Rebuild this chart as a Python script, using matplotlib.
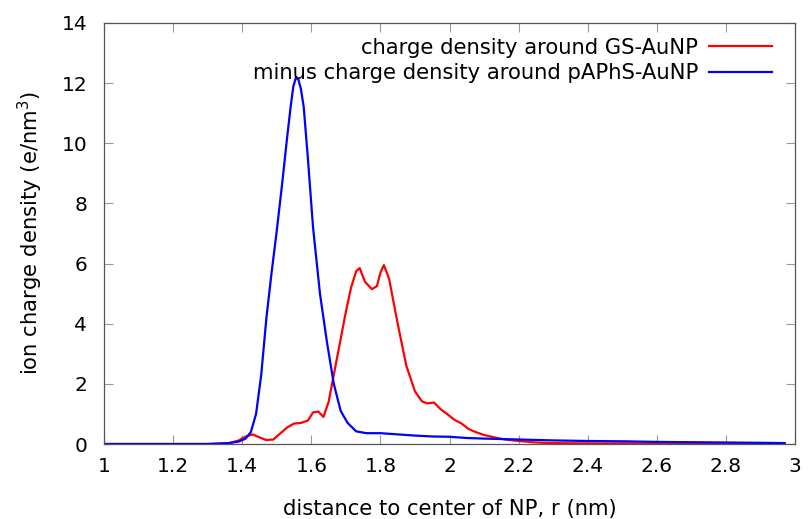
import matplotlib
matplotlib.use("Agg")
import matplotlib.pyplot as plt

# GS-AuNP charge density (red)
red_x = [1.00, 1.10, 1.20, 1.30, 1.36, 1.39, 1.41, 1.43, 1.45, 1.47, 1.49, 1.51, 1.53, 1.55,
         1.57, 1.59, 1.605, 1.62, 1.635, 1.65, 1.665, 1.68, 1.70, 1.715, 1.73, 1.74, 1.755,
         1.775, 1.79, 1.80, 1.81, 1.825, 1.85, 1.875, 1.90, 1.92, 1.935, 1.955, 1.975, 1.995,
         2.015, 2.035, 2.055, 2.075, 2.10, 2.13, 2.16, 2.20, 2.25, 2.30, 2.40, 2.50, 2.60,
         2.70, 2.80, 2.90, 2.97]
red_y = [0.00, 0.00, 0.00, 0.00, 0.02, 0.12, 0.25, 0.32, 0.22, 0.13, 0.15, 0.35, 0.55, 0.68,
         0.70, 0.78, 1.05, 1.08, 0.90, 1.40, 2.30, 3.20, 4.40, 5.20, 5.75, 5.85, 5.40,
         5.15, 5.25, 5.70, 5.95, 5.50, 4.00, 2.60, 1.75, 1.42, 1.35, 1.38, 1.15, 0.98,
         0.80, 0.68, 0.50, 0.40, 0.30, 0.22, 0.15, 0.10, 0.05, 0.03, 0.02, 0.02, 0.01,
         0.02, 0.01, 0.02, 0.01]

# minus pAPhS-AuNP charge density (blue)
blue_x = [1.00, 1.10, 1.20, 1.30, 1.36, 1.39, 1.41, 1.425, 1.44, 1.455, 1.47, 1.485, 1.50,
          1.515, 1.53, 1.54, 1.548, 1.556, 1.563, 1.57, 1.578, 1.59, 1.605, 1.625, 1.645,
          1.665, 1.685, 1.705, 1.73, 1.76, 1.80, 1.85, 1.90, 1.95, 2.00, 2.05, 2.10, 2.20,
          2.30, 2.40, 2.50, 2.60, 2.70, 2.80, 2.90, 2.97]
blue_y = [0.00, 0.00, 0.00, 0.00, 0.03, 0.08, 0.18, 0.40, 1.00, 2.30, 4.20, 5.70, 7.10,
          8.60, 10.20, 11.20, 11.90, 12.20, 12.10, 11.80, 11.20, 9.50, 7.20, 5.00, 3.40,
          2.00, 1.10, 0.70, 0.42, 0.36, 0.36, 0.32, 0.28, 0.25, 0.24, 0.20, 0.18, 0.15,
          0.12, 0.10, 0.09, 0.07, 0.06, 0.05, 0.04, 0.03]

x_ticks = [1, 1.2, 1.4, 1.6, 1.8, 2, 2.2, 2.4, 2.6, 2.8, 3]
x_tick_labels = ["1", "1.2", "1.4", "1.6", "1.8", "2", "2.2", "2.4", "2.6", "2.8", "3"]
y_ticks = [0, 2, 4, 6, 8, 10, 12, 14]

fig = plt.figure(figsize=(8.09, 5.19), dpi=100)
ax = fig.add_axes([0.1286, 0.1445, 0.8541, 0.8112])

ax.plot(red_x, red_y, color="#ff0000", lw=1.6, label="charge density around GS-AuNP")
ax.plot(blue_x, blue_y, color="#0000ff", lw=1.6, label="minus charge density around pAPhS-AuNP")

ax.set_xlim(1, 3)
ax.set_ylim(0, 14)
ax.set_xticks(x_ticks)
ax.set_xticklabels(x_tick_labels)
ax.set_yticks(y_ticks)
ax.tick_params(direction="in", top=True, right=True, length=6.5, width=0.8,
               color="#999999", labelsize=14.5)
ax.tick_params(axis="x", pad=9)
ax.tick_params(axis="y", pad=12)
for s in ax.spines.values():
    s.set_color("#555555")
    s.set_linewidth(0.9)

ax.set_xlabel("distance to center of NP, r (nm)", fontsize=15.2, labelpad=17)
ax.set_ylabel("ion charge density (e/nm$^3$)", fontsize=15.2, labelpad=12)

ax.legend(loc="upper right", frameon=False, markerfirst=False, fontsize=15.2,
          handlelength=3.0, handletextpad=0.5, borderaxespad=0.2, labelspacing=0.25,
          bbox_to_anchor=(0.985, 0.995))

fig.savefig("out.png", dpi=100)
